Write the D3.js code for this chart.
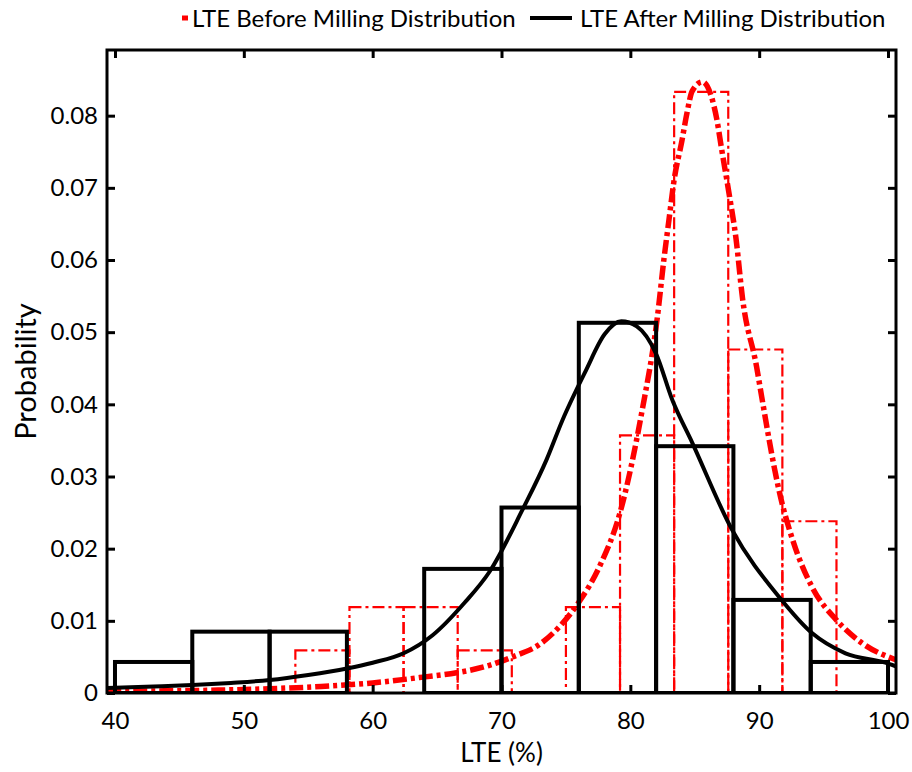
<!DOCTYPE html>
<html>
<head>
<meta charset="utf-8">
<script src="https://cdn.jsdelivr.net/npm/d3@7"></script>
<style>
  html, body { margin: 0; padding: 0; background: #fff; }
  svg { display: block; font-family: Lato, "Open Sans", sans-serif; }
</style>
</head>
<body>
<svg id="chart" width="912" height="772"></svg>
<script>
// ---------------- data ----------------
const xTicks = [40, 50, 60, 70, 80, 90, 100];
const yTicks = [0, 0.01, 0.02, 0.03, 0.04, 0.05, 0.06, 0.07, 0.08];
const yTickLabels = ["0", "0.01", "0.02", "0.03", "0.04", "0.05", "0.06", "0.07", "0.08"];

// histogram after milling (bin edges, probability density per bin)
const afterEdges = [40, 46, 52, 58, 64, 70, 76, 82, 88, 94, 100];
const afterDensity = [0.0043, 0.0085, 0.0085, 0, 0.0172, 0.0257, 0.0513, 0.0342, 0.0129, 0.0043];

// histogram before milling
const beforeEdges = [54, 58.2, 62.4, 66.6, 70.8, 75, 79.2, 83.4, 87.6, 91.8, 96];
const beforeDensity = [0.0059, 0.0119, 0.0119, 0.0059, 0, 0.0119, 0.0357, 0.0833, 0.0476, 0.0238];

// fitted distribution curves
const beforeCurveX = [39.4, 44, 48, 52, 56, 60, 63.9, 66.5, 69, 70.85, 73, 74.5, 76.05, 77.6, 79.2, 80.9, 82.1, 82.6, 83.0, 83.4, 84.0, 84.4, 84.8, 85.6, 86.3, 86.7, 87.1, 87.7, 88.2, 88.7, 89.8, 90.2, 91.2, 91.55, 92.6, 94.1, 96.0, 98.0, 100.6];
const beforeCurveY = [0.0002, 0.0003, 0.0004, 0.0006, 0.0009, 0.0014, 0.0022, 0.0028, 0.0038, 0.0050, 0.0068, 0.0092, 0.0127, 0.0175, 0.025, 0.039, 0.0521, 0.060, 0.0656, 0.0711, 0.0765, 0.0804, 0.0834, 0.0847, 0.0826, 0.0796, 0.0752, 0.0688, 0.063, 0.0548, 0.0452, 0.041, 0.031, 0.028, 0.0212, 0.0147, 0.0101, 0.0069, 0.0046];

const afterCurveX = [39.4, 43, 46, 49, 52, 55, 58, 60, 62.4, 64.65, 67.13, 69.07, 71.63, 73.49, 74.73, 76.5, 78, 79.3, 80.5, 82, 83.26, 84.8, 87.9, 91.55, 94.1, 96.7, 99.8, 100.6];
const afterCurveY = [0.0007, 0.0009, 0.0011, 0.0014, 0.0018, 0.0025, 0.0034, 0.0042, 0.0055, 0.0080, 0.0125, 0.0168, 0.0254, 0.0323, 0.0378, 0.0445, 0.0497, 0.0515, 0.0508, 0.0470, 0.0406, 0.0347, 0.0226, 0.0133, 0.0083, 0.0055, 0.0042, 0.0037];

const legendLabels = ["LTE Before Milling Distribution", "LTE After Milling Distribution"];
const xTitle = "LTE (%)";
const yTitle = "Probability";

// ---------------- layout ----------------
const svg = d3.select("#chart");
const L = 107, R = 896, T = 50, B = 693;
const x = d3.scaleLinear().domain([39.38, 100.62]).range([L, R]);
const y = d3.scaleLinear().domain([0, 0.0891]).range([B, T]);

svg.append("defs").append("clipPath").attr("id", "clip")
  .append("rect").attr("x", L).attr("y", T).attr("width", R - L).attr("height", B - T);

const plot = svg.append("g").attr("clip-path", "url(#clip)");

// red histogram (before milling)
const beforeBins = beforeDensity.map((d, i) => ({ x0: beforeEdges[i], x1: beforeEdges[i + 1], v: d }));
plot.append("g").selectAll("rect").data(beforeBins).join("rect")
  .attr("x", d => x(d.x0)).attr("width", d => x(d.x1) - x(d.x0))
  .attr("y", d => y(d.v)).attr("height", d => y(0) - y(d.v))
  .attr("fill", "none").attr("stroke", "#ff0000").attr("stroke-width", 2.2)
  .attr("stroke-dasharray", "12,4,3,4");

// red curve
const line = (xs, ys) => d3.line().x((d, i) => x(xs[i])).y((d, i) => y(ys[i])).curve(d3.curveMonotoneX)(ys);
plot.append("path").attr("d", line(beforeCurveX, beforeCurveY))
  .attr("fill", "none").attr("stroke", "#ff0000").attr("stroke-width", 5.5)
  .attr("stroke-dasharray", "14,4,4,4");

// black histogram (after milling)
const afterBins = afterDensity.map((d, i) => ({ x0: afterEdges[i], x1: afterEdges[i + 1], v: d }));
plot.append("g").selectAll("rect").data(afterBins).join("rect")
  .attr("x", d => x(d.x0)).attr("width", d => x(d.x1) - x(d.x0))
  .attr("y", d => y(d.v)).attr("height", d => y(0) - y(d.v))
  .attr("fill", "none").attr("stroke", "#000").attr("stroke-width", 4);

// black curve
plot.append("path").attr("d", line(afterCurveX, afterCurveY))
  .attr("fill", "none").attr("stroke", "#000").attr("stroke-width", 4);

// ---------------- axes ----------------
const fontSize = 24;
const gx = svg.append("g").attr("transform", `translate(0,${B})`)
  .call(d3.axisBottom(x).tickValues(xTicks).tickSizeInner(-8).tickSizeOuter(0).tickPadding(19));
const gxTop = svg.append("g").attr("transform", `translate(0,${T})`)
  .call(d3.axisTop(x).tickValues(xTicks).tickSizeInner(-8).tickSizeOuter(0).tickFormat(""));
const gy = svg.append("g").attr("transform", `translate(${L},0)`)
  .call(d3.axisLeft(y).tickValues(yTicks).tickSizeInner(-8).tickSizeOuter(0).tickPadding(9)
    .tickFormat((d, i) => yTickLabels[i]));
const gyR = svg.append("g").attr("transform", `translate(${R},0)`)
  .call(d3.axisRight(y).tickValues(yTicks).tickSizeInner(-8).tickSizeOuter(0).tickFormat(""));

[gx, gxTop, gy, gyR].forEach(g => {
  g.select(".domain").remove();
  g.selectAll(".tick line").attr("stroke", "#000").attr("stroke-width", 3);
  g.selectAll(".tick text").attr("fill", "#000").attr("font-size", fontSize)
    .attr("font-family", "Lato, 'Open Sans', sans-serif");
});

// frame
svg.append("rect").attr("x", L).attr("y", T).attr("width", R - L).attr("height", B - T)
  .attr("fill", "none").attr("stroke", "#000").attr("stroke-width", 3);

// titles
svg.append("text").attr("x", (L + R) / 2).attr("y", 762).attr("text-anchor", "middle")
  .attr("font-size", 26).attr("fill", "#000").text(xTitle);
svg.append("text").attr("transform", `translate(36,${(T + B) / 2}) rotate(-90)`)
  .attr("text-anchor", "middle").attr("font-size", 29).attr("fill", "#000").text(yTitle);

// legend
const lg = svg.append("g");
lg.append("line").attr("x1", 182).attr("x2", 188).attr("y1", 18).attr("y2", 18)
  .attr("stroke", "#ff0000").attr("stroke-width", 5);
lg.append("text").attr("x", 192).attr("y", 27).attr("font-size", 24).attr("fill", "#000").text(legendLabels[0]);
lg.append("line").attr("x1", 530).attr("x2", 572).attr("y1", 18).attr("y2", 18)
  .attr("stroke", "#000").attr("stroke-width", 4);
lg.append("text").attr("x", 580).attr("y", 27).attr("font-size", 24).attr("fill", "#000").text(legendLabels[1]);
</script>
</body>
</html>
